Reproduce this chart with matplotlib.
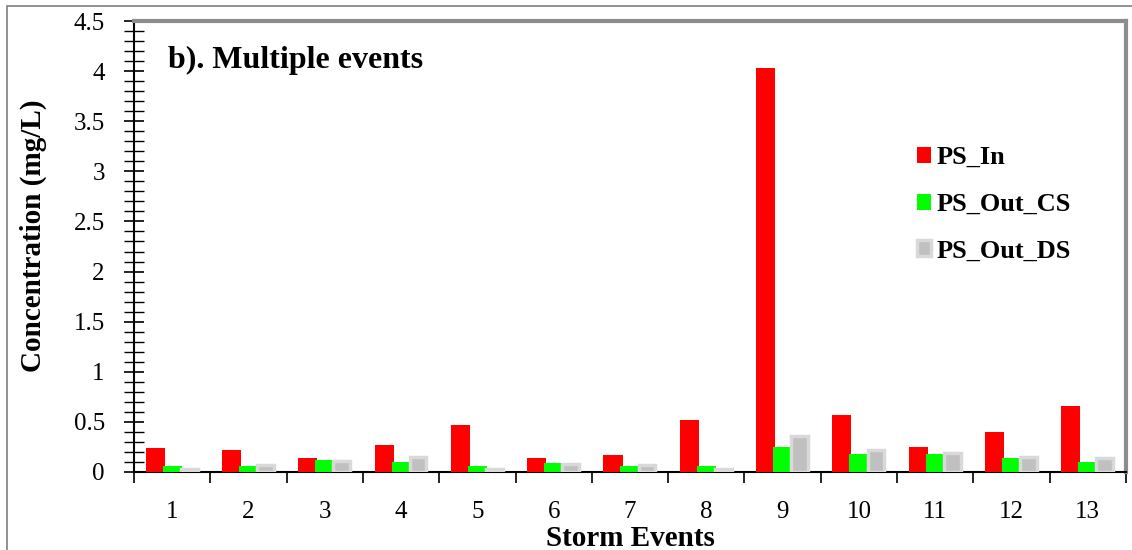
import numpy as np
import matplotlib
matplotlib.use("Agg")
from matplotlib import pyplot as plt
from matplotlib.patches import Rectangle
from matplotlib.ticker import MultipleLocator

# Datos
eventos = ['1', '2', '3', '4', '5', '6', '7', '8', '9', '10', '11', '12', '13']
ps_in = [0.24, 0.22, 0.14, 0.27, 0.47, 0.14, 0.165, 0.52, 4.03, 0.57, 0.25, 0.40, 0.655]
ps_out_cs = [0.06, 0.06, 0.12, 0.10, 0.06, 0.085, 0.06, 0.06, 0.25, 0.18, 0.18, 0.135, 0.10]
ps_out_ds = [0.03, 0.07, 0.105, 0.15, 0.03, 0.08, 0.07, 0.03, 0.355, 0.22, 0.19, 0.15, 0.14]

plt.rcParams['font.family'] = ['Liberation Serif', 'DejaVu Serif']

fig = plt.figure(figsize=(11.32, 5.5), dpi=100)
ax = fig.add_axes([134 / 1132, 1 - 472 / 550, (1126 - 134) / 1132, (472 - 21) / 550])

x = np.arange(len(eventos))
ancho = 0.25
paso = 0.223
ax.bar(x - paso, ps_in, ancho, color='#ff0000', label='PS_In', zorder=3)
ax.bar(x, ps_out_cs, ancho, color='#00ff00', label='PS_Out_CS', zorder=3)
ax.bar(x + paso, ps_out_ds, ancho - 0.03, color='#c0c0c0', edgecolor='#d9d9d9',
       linewidth=2.5, label='PS_Out_DS', zorder=3)

ax.set_xlim(-0.5, len(eventos) - 0.5)
ax.set_ylim(0, 4.5)

# ticks en x: marcas en los limites, etiquetas en el centro
ax.set_xticks(np.arange(len(eventos) + 1) - 0.5)
ax.set_xticklabels([])
ax.set_xticks(x, minor=True)
ax.set_xticklabels(eventos, minor=True, fontsize=18)
ax.tick_params(axis='x', which='major', direction='out', length=8, width=1.2, color='black')
ax.tick_params(axis='x', which='minor', length=0, pad=21)

ax.yaxis.set_major_locator(MultipleLocator(0.5))
ax.yaxis.set_minor_locator(MultipleLocator(0.1))
ax.set_yticks(np.arange(0, 4.51, 0.5))
ax.set_yticklabels(['0', '0.5', '1', '1.5', '2', '2.5', '3', '3.5', '4', '4.5'], fontsize=18)
ax.tick_params(axis='y', which='major', direction='inout', length=14, width=1.2, pad=14)
ax.tick_params(axis='y', which='minor', direction='inout', length=14, width=1.0)

for lado in ['left', 'bottom']:
    ax.spines[lado].set_color('black')
    ax.spines[lado].set_linewidth(1.5)
for lado in ['top', 'right']:
    ax.spines[lado].set_color('#8c8c8c')
    ax.spines[lado].set_linewidth(3)

ax.set_ylabel('Concentration (mg/L)', fontsize=21, fontweight='bold')
ax.yaxis.set_label_coords(-0.088, 0.523)
ax.set_xlabel('Storm Events', fontsize=21, fontweight='bold')
ax.xaxis.set_label_coords(0.5, -0.117)
ax.text(0.034, 0.912, 'b). Multiple events', transform=ax.transAxes, fontsize=23,
        fontweight='bold', va='center', ha='left')

leg = ax.legend(loc='upper left', bbox_to_anchor=(0.765, 0.775), frameon=False,
                prop={'size': 19, 'weight': 'bold'}, handlelength=0.55, handleheight=0.55,
                handletextpad=0.2, labelspacing=0.9)

# marco exterior
fig.patches.append(Rectangle((7 / 1132, -0.1), 1.2, 1 - 6 / 550 + 0.1, transform=fig.transFigure,
                             fill=False, edgecolor='#7f7f7f', linewidth=1.2))

fig.savefig('out.png', dpi=100)
